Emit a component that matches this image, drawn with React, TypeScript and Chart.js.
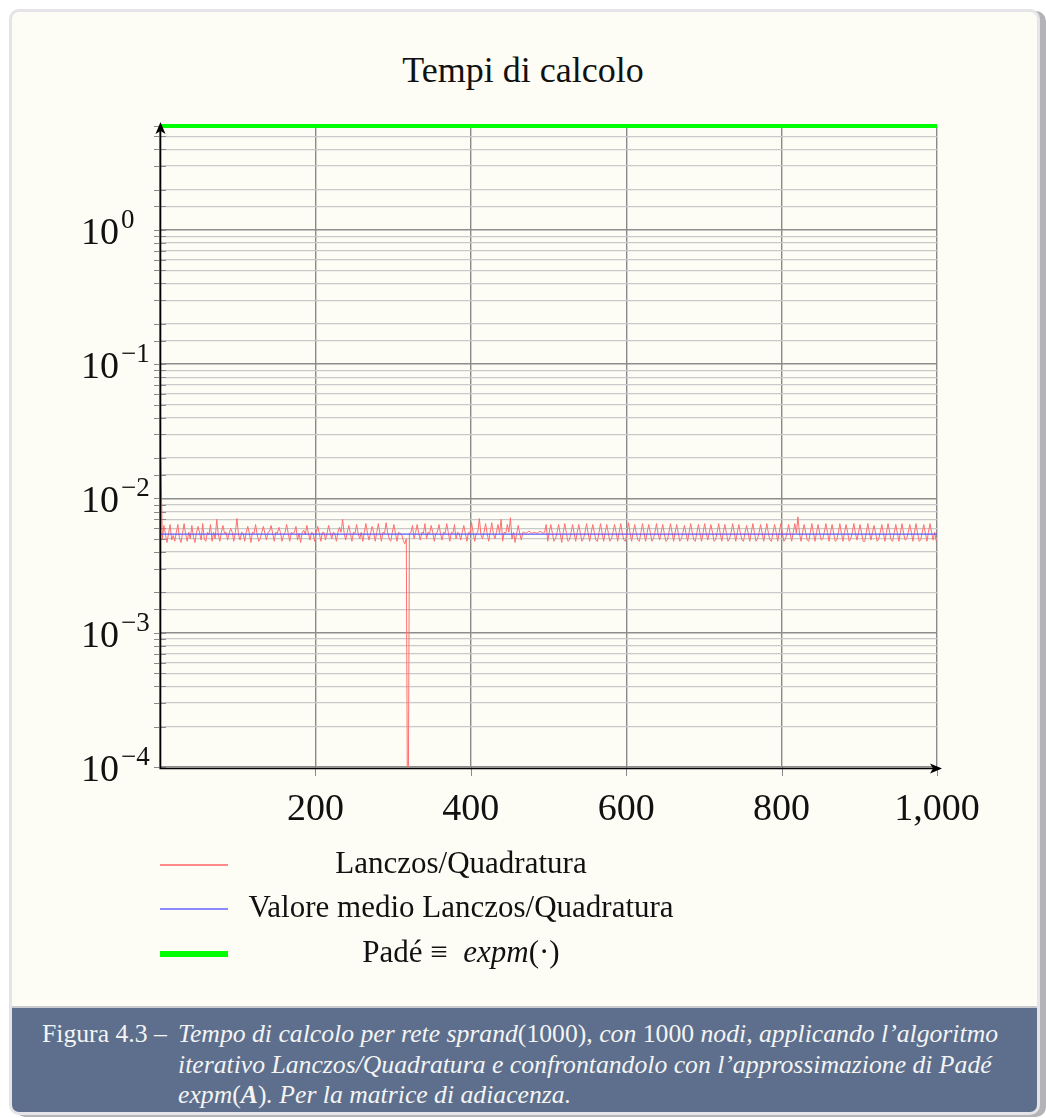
import React, { useEffect, useRef } from 'react';
import { Chart, registerables } from 'chart.js';

Chart.register(...registerables);

// Lanczos/Quadratura computation time (milliseconds), sampled every 2 iterations (1, 3, 5, ... 999)
const lanczosMs: number[] = [
  19.5, 5.0, 6.3, 5.4, 4.7, 5.5, 6.4, 4.9, 5.3, 4.8,
  5.6, 6.4, 5.1, 4.7, 5.5, 6.5, 5.4, 4.8, 5.6, 5.0,
  6.3, 5.2, 4.7, 5.6, 6.2, 5.5, 4.9, 6.5, 5.0, 4.8,
  5.6, 5.4, 6.4, 4.8, 5.6, 5.0, 7.0, 5.4, 4.8, 5.6,
  6.3, 5.5, 5.6, 4.9, 5.5, 6.0, 5.6, 4.8, 5.6, 7.1,
  5.4, 4.9, 5.6, 5.5, 4.8, 5.6, 6.2, 5.5, 4.7, 5.6,
  5.5, 6.4, 5.4, 4.8, 5.0, 5.6, 6.2, 5.5, 4.9, 5.6,
  5.7, 6.3, 5.5, 4.8, 5.6, 5.5, 6.1, 5.6, 4.8, 5.3,
  5.6, 6.4, 5.5, 4.8, 5.6, 5.5, 5.6, 6.2, 4.9, 5.5,
  4.7, 5.6, 5.8, 5.4, 6.3, 5.5, 4.9, 5.6, 5.5, 4.8,
  5.6, 6.2, 5.5, 4.8, 5.6, 5.6, 4.9, 5.5, 6.3, 5.6,
  5.0, 5.6, 5.5, 4.8, 5.6, 6.1, 5.6, 7.0, 5.5, 4.9,
  5.6, 6.3, 5.5, 4.8, 5.6, 5.5, 6.4, 5.5, 5.0, 5.6,
  4.8, 5.6, 6.5, 5.5, 4.9, 5.5, 6.2, 5.6, 4.8, 5.6,
  6.5, 5.5, 4.8, 5.6, 5.5, 6.6, 5.6, 5.0, 4.8, 5.6,
  6.4, 5.5, 4.8, 5.6, 5.5, 5.4, 4.9, 4.6, 5.0, 0.01,
  5.5, 5.6, 6.3, 5.0, 5.6, 6.4, 5.5, 4.9, 5.6, 5.5,
  6.5, 5.0, 5.6, 5.5, 6.3, 5.6, 4.8, 5.5, 5.6, 6.4,
  5.5, 4.9, 5.6, 5.5, 6.5, 5.6, 4.8, 5.6, 5.5, 6.4,
  5.0, 5.6, 5.5, 4.9, 5.6, 6.3, 5.5, 4.8, 5.6, 5.5,
  6.6, 5.6, 4.8, 5.5, 5.6, 7.1, 5.4, 5.0, 5.6, 6.5,
  5.5, 4.8, 5.6, 6.6, 5.5, 5.0, 5.6, 6.4, 5.5, 7.0,
  4.8, 5.6, 5.5, 6.4, 5.6, 7.2, 5.0, 5.6, 4.7, 5.5,
  6.3, 5.5, 4.9, 5.6, 5.6, 5.5, 5.6, 5.7, 5.6, 5.5,
  5.6, 5.6, 5.5, 5.6, 5.7, 5.6, 5.5, 5.6, 6.4, 4.8,
  5.6, 6.4, 5.5, 4.8, 5.0, 5.6, 6.4, 5.5, 4.7, 5.6,
  6.5, 5.5, 4.8, 4.9, 5.6, 6.4, 5.5, 4.8, 5.6, 6.4,
  5.5, 4.8, 5.0, 5.6, 6.5, 5.5, 4.8, 5.6, 6.4, 5.6,
  4.9, 4.8, 5.6, 6.5, 5.5, 4.8, 5.6, 6.4, 5.5, 4.8,
  5.0, 5.6, 6.4, 5.6, 4.8, 5.6, 6.5, 5.5, 4.9, 4.8,
  5.6, 6.6, 5.5, 4.8, 5.6, 6.4, 5.5, 4.9, 4.8, 5.6,
  6.5, 5.5, 4.8, 5.6, 6.4, 5.6, 4.8, 5.0, 5.6, 6.5,
  5.5, 4.9, 5.6, 6.4, 5.5, 4.8, 4.9, 5.6, 6.5, 5.6,
  4.8, 5.6, 6.4, 5.5, 4.8, 5.0, 5.6, 6.3, 5.5, 4.8,
  5.6, 6.5, 5.6, 4.9, 4.8, 5.6, 6.4, 5.5, 4.8, 5.6,
  6.5, 5.5, 4.9, 5.6, 6.4, 5.6, 4.8, 4.9, 5.6, 6.5,
  5.5, 4.8, 5.6, 6.4, 5.5, 4.8, 5.0, 5.6, 6.5, 5.6,
  4.8, 5.6, 6.4, 5.5, 4.9, 4.8, 5.6, 6.3, 5.5, 4.8,
  5.6, 6.5, 5.6, 4.8, 5.0, 5.6, 6.4, 5.5, 4.8, 5.6,
  6.5, 5.5, 4.9, 4.8, 5.6, 6.4, 5.6, 4.8, 5.6, 6.5,
  5.5, 4.8, 5.0, 5.6, 6.4, 5.5, 4.8, 5.6, 6.5, 5.5,
  7.3, 5.5, 4.8, 5.6, 6.4, 5.6, 4.9, 4.8, 5.6, 6.5,
  5.5, 4.8, 5.6, 6.4, 5.5, 4.9, 5.0, 5.6, 6.5, 5.6,
  4.8, 5.6, 6.4, 5.5, 4.8, 4.9, 5.6, 6.5, 5.5, 4.8,
  5.6, 6.4, 5.6, 4.8, 5.0, 5.6, 6.5, 5.5, 4.9, 5.6,
  6.4, 5.5, 4.8, 4.8, 5.6, 6.5, 5.6, 4.9, 5.6, 6.3,
  5.5, 4.8, 5.0, 5.6, 6.4, 5.5, 4.8, 5.6, 6.5, 5.6,
  4.9, 4.8, 5.6, 6.4, 5.5, 4.8, 5.6, 6.5, 5.5, 4.9,
  5.0, 5.6, 6.4, 5.6, 4.8, 5.6, 6.5, 5.5, 4.8, 4.9,
  5.6, 6.4, 5.5, 4.8, 5.6, 6.5, 5.6, 4.9, 5.6, 4.8,
];
const lanczosIter: number[] = lanczosMs.map((_, i) => 1 + 2 * i);

const meanLanczosMs = 5.42; // Valore medio Lanczos/Quadratura
const padeSec = 5.95; // Padé ≡ expm(·)
const xRange = [0, 1000];
const yRange = [1e-4, 5.95];

const yExponents: number[] = [0, -1, -2, -3, -4];
const xTickValues: number[] = [200, 400, 600, 800, 1000];

const FONT = '"Liberation Serif", "Times New Roman", serif';

const toSup = (n: number) => String(n).replace('-', '\u2212');

const isDecade = (v: number) => {
  if (!v) return false;
  const l = Math.log10(v);
  return Math.abs(l - Math.round(l)) < 1e-6;
};

const decorPlugin = {
  id: 'decor',
  beforeDatasetsDraw(chart: any) {
    const { ctx, chartArea, scales } = chart;
    const { left, bottom } = chartArea;
    ctx.save();
    ctx.strokeStyle = '#8a8a8a';
    ctx.lineWidth = 1;
    for (const t of scales.y.ticks) {
      const py = Math.round(scales.y.getPixelForValue(t.value)) + 0.5;
      ctx.beginPath();
      ctx.moveTo(left - 6, py);
      ctx.lineTo(left + 6, py);
      ctx.stroke();
    }
    for (const v of xTickValues) {
      const px = Math.round(scales.x.getPixelForValue(v)) + 0.5;
      ctx.beginPath();
      ctx.moveTo(px, bottom);
      ctx.lineTo(px, bottom + 9);
      ctx.stroke();
    }
    ctx.restore();
  },
  afterDraw(chart: any) {
    const { ctx, chartArea, scales } = chart;
    const { left, right, top, bottom } = chartArea;
    ctx.save();
    ctx.strokeStyle = '#000';
    ctx.fillStyle = '#000';
    ctx.lineWidth = 1.6;
    const ax = left + 0.5;
    const ay = bottom + 1.5;
    ctx.beginPath();
    ctx.moveTo(ax, ay);
    ctx.lineTo(ax, top - 1);
    ctx.stroke();
    ctx.beginPath();
    ctx.moveTo(ax - 1, ay);
    ctx.lineTo(right + 3, ay);
    ctx.stroke();
    const tipY = top - 4;
    ctx.beginPath();
    ctx.moveTo(ax, tipY);
    ctx.lineTo(ax - 5, tipY + 12);
    ctx.lineTo(ax, tipY + 9);
    ctx.lineTo(ax + 5, tipY + 12);
    ctx.closePath();
    ctx.fill();
    const tipX = right + 5;
    ctx.beginPath();
    ctx.moveTo(tipX, ay);
    ctx.lineTo(tipX - 12, ay - 5);
    ctx.lineTo(tipX - 9, ay);
    ctx.lineTo(tipX - 12, ay + 5);
    ctx.closePath();
    ctx.fill();

    ctx.fillStyle = '#111';
    ctx.textBaseline = 'alphabetic';
    for (const e of yExponents) {
      const py = scales.y.getPixelForValue(Math.pow(10, e));
      ctx.font = `38px ${FONT}`;
      ctx.textAlign = 'right';
      ctx.fillText('10', 119, py + 14);
      ctx.font = `27px ${FONT}`;
      ctx.textAlign = 'left';
      ctx.fillText(toSup(e), 121, py - 2);
    }
    ctx.font = `38px ${FONT}`;
    ctx.textAlign = 'center';
    for (const v of xTickValues) {
      const px = scales.x.getPixelForValue(v);
      ctx.fillText(v.toLocaleString('en-US'), px, 820);
    }
    ctx.restore();
  },
};

export default function App() {
  const canvasRef = useRef<HTMLCanvasElement>(null);

  useEffect(() => {
    document.body.style.margin = '0';
    const canvas = canvasRef.current;
    if (!canvas) return;
    const chart = new Chart(canvas, {
      type: 'line',
      data: {
        datasets: [
          {
            label: 'Valore medio Lanczos/Quadratura',
            data: [
              { x: lanczosIter[0], y: meanLanczosMs / 1000 },
              { x: xRange[1], y: meanLanczosMs / 1000 },
            ],
            borderColor: '#5a5aff',
            borderWidth: 1.3,
            pointRadius: 0,
            order: 0,
          },
          {
            label: 'Lanczos/Quadratura',
            data: lanczosIter.map((x, i) => ({ x, y: lanczosMs[i] / 1000 })),
            borderColor: '#ff6e6e',
            borderWidth: 1,
            pointRadius: 0,
            order: 1,
          },
          {
            label: 'Padé ≡ expm(·)',
            data: [
              { x: xRange[0], y: padeSec },
              { x: xRange[1], y: padeSec },
            ],
            borderColor: '#00ff00',
            borderWidth: 4,
            pointRadius: 0,
            clip: false,
            order: 0,
          },
        ],
      },
      options: {
        animation: false,
        responsive: false,
        devicePixelRatio: 1,
        layout: { padding: { left: 160, top: 126, right: 109, bottom: 233 } },
        plugins: {
          legend: { display: false },
          tooltip: { enabled: false },
          title: { display: false },
        },
        elements: { line: { tension: 0 } },
        scales: {
          x: {
            type: 'linear',
            min: xRange[0],
            max: xRange[1],
            ticks: { display: false, stepSize: 200 },
            grid: { color: '#8a8a8a', lineWidth: 1.4, drawTicks: false },
            border: { display: false },
            afterFit: (s: any) => {
              s.height = 0;
            },
          },
          y: {
            type: 'logarithmic',
            min: yRange[0],
            max: yRange[1],
            ticks: { display: false },
            grid: {
              color: (c: any) => (isDecade(c.tick?.value) ? '#8d8d8d' : '#c9c9c9'),
              lineWidth: (c: any) => (isDecade(c.tick?.value) ? 1.5 : 1.2),
              drawTicks: false,
            },
            border: { display: false },
            afterFit: (s: any) => {
              s.width = 0;
            },
          },
        },
      },
      plugins: [decorPlugin],
    } as any);
    return () => chart.destroy();
  }, []);

  const serif = FONT;
  const legendRows = [
    { cy: 865, color: '#ff8a8a', w: 2, text: <span>Lanczos/Quadratura</span> },
    { cy: 909, color: '#8a8aff', w: 2, text: <span>Valore medio Lanczos/Quadratura</span> },
    {
      cy: 954,
      color: '#00ff00',
      w: 6,
      text: (
        <span>
          Padé ≡&nbsp;&nbsp;<i>expm</i>(·)
        </span>
      ),
    },
  ];

  return (
    <div style={{ position: 'relative', width: 1046, height: 1118, background: '#ffffff', overflow: 'hidden', fontFamily: serif }}>
      <div
        style={{
          position: 'absolute',
          left: 9,
          top: 9,
          width: 1031,
          height: 1106,
          boxSizing: 'border-box',
          border: '3px solid #e4e4e9',
          borderRadius: 10,
          background: '#fdfdf5',
          boxShadow: '6px 2px 0 #b3b3b8',
          overflow: 'hidden',
        }}
      >
        <div
          style={{
            position: 'absolute',
            left: 0,
            right: 0,
            top: 994,
            bottom: 0,
            background: '#5d6f8c',
            borderTop: '2px solid #c9cbd0',
          }}
        />
      </div>

      <div
        style={{
          position: 'absolute',
          left: 0,
          width: 1046,
          top: 50,
          textAlign: 'center',
          fontSize: 36,
          lineHeight: '40px',
          color: '#111',
        }}
      >
        Tempi di calcolo
      </div>

      <canvas ref={canvasRef} width={1046} height={1000} style={{ position: 'absolute', left: 0, top: 0 }} />

      {legendRows.map((r, i) => (
        <React.Fragment key={i}>
          <div
            style={{
              position: 'absolute',
              left: 160,
              width: 68,
              top: r.cy - r.w / 2,
              height: r.w,
              background: r.color,
            }}
          />
          <div
            style={{
              position: 'absolute',
              left: 461,
              top: r.cy - 20,
              transform: 'translateX(-50%)',
              whiteSpace: 'nowrap',
              fontSize: 31,
              lineHeight: '36px',
              color: '#111',
            }}
          >
            {r.text}
          </div>
        </React.Fragment>
      ))}

      <div style={{ position: 'absolute', left: 0, top: 0, color: '#f4f4f4', fontSize: 25.7, lineHeight: '30.5px', whiteSpace: 'nowrap' }}>
        <div style={{ position: 'absolute', left: 42, top: 1019 }}>Figura 4.3 –</div>
        <div style={{ position: 'absolute', left: 178, top: 1019 }}>
          <i>Tempo di calcolo per rete sprand</i>(1000)<i>, con </i>1000<i> nodi, applicando l’algoritmo</i>
        </div>
        <div style={{ position: 'absolute', left: 178, top: 1049.5 }}>
          <i>iterativo Lanczos/Quadratura e confrontandolo con l’approssimazione di Padé</i>
        </div>
        <div style={{ position: 'absolute', left: 178, top: 1080 }}>
          <i>expm</i>(<b><i>A</i></b>)<i>. Per la matrice di adiacenza.</i>
        </div>
      </div>
    </div>
  );
}
